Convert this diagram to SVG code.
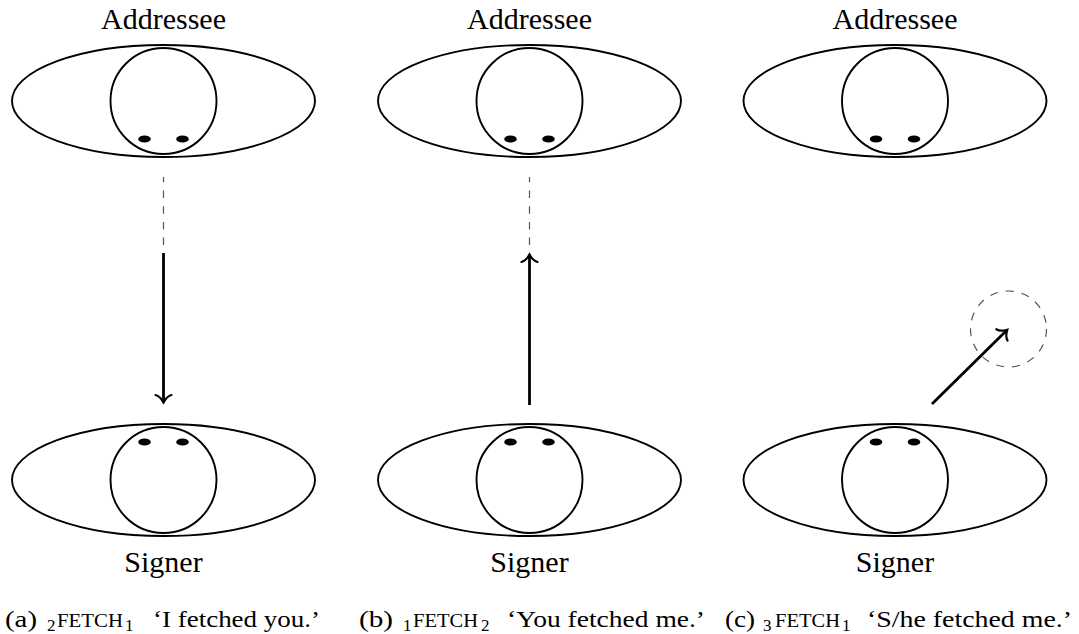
<svg xmlns="http://www.w3.org/2000/svg" width="1079" height="634" viewBox="0 0 1079 634">
<style>
.outer{fill:none;stroke:#000;stroke-width:1.9}
.head{fill:none;stroke:#000;stroke-width:1.9}
.eye{fill:#000;stroke:none}
text{font-family:'Liberation Serif','Times New Roman',serif;fill:#000}
.lbl{font-size:30px;text-anchor:middle}
.cap{font-size:24px}
.sc{font-size:18px}
.sub{font-size:17px}
.dash{fill:none;stroke:#555;stroke-width:1.2;stroke-dasharray:7.5 8.2}
.arrow{fill:none;stroke:#000;stroke-width:2.8;marker-end:url(#ah)}
</style>
<defs>
<marker id="ah" markerUnits="userSpaceOnUse" orient="auto" refX="0" refY="0" viewBox="-10 -10 12 20" markerWidth="12" markerHeight="20" overflow="visible">
<path d="M -7.5,-8 C -6.5,-4 -1.5,-0.8 0,0 C -1.5,0.8 -6.5,4 -7.5,8" fill="none" stroke="#000" stroke-width="2.2" stroke-linecap="round"/>
</marker>
<g id="faceDown">
<ellipse class="outer" cx="0" cy="0" rx="151.5" ry="56"/>
<circle class="head" cx="0" cy="0" r="53"/>
<ellipse class="eye" cx="-19" cy="38" rx="6.3" ry="3.6"/>
<ellipse class="eye" cx="19" cy="38" rx="6.3" ry="3.6"/>
</g>
<g id="faceUp">
<ellipse class="outer" cx="0" cy="0" rx="151.5" ry="56"/>
<circle class="head" cx="0" cy="0" r="53"/>
<ellipse class="eye" cx="-19" cy="-38" rx="6.3" ry="3.6"/>
<ellipse class="eye" cx="19" cy="-38" rx="6.3" ry="3.6"/>
</g>
</defs>

<g id="a-addressee">
<text class="lbl" x="163.5" y="29">Addressee</text>
<use href="#faceDown" x="163.5" y="101"/>
</g>
<g id="a-signer">
<use href="#faceUp" x="163.5" y="480"/>
<text class="lbl" x="163.5" y="572">Signer</text>
</g>
<g id="b-addressee">
<text class="lbl" x="529.5" y="29">Addressee</text>
<use href="#faceDown" x="529.5" y="101"/>
</g>
<g id="b-signer">
<use href="#faceUp" x="529.5" y="480"/>
<text class="lbl" x="529.5" y="572">Signer</text>
</g>
<g id="c-addressee">
<text class="lbl" x="895" y="29">Addressee</text>
<use href="#faceDown" x="895" y="101"/>
</g>
<g id="c-signer">
<use href="#faceUp" x="895" y="480"/>
<text class="lbl" x="895" y="572">Signer</text>
</g>
<g id="c-target">
<circle cx="1008.5" cy="329" r="38" fill="none" stroke="#555" stroke-width="1.2" stroke-dasharray="8 8"/>
</g>

<g id="connectors">
<line class="dash" x1="163.5" y1="177" x2="163.5" y2="245" stroke-dashoffset="2.2"/>
<line class="arrow" x1="163.5" y1="253" x2="163.5" y2="402.5"/>
<line class="dash" x1="529.5" y1="177" x2="529.5" y2="245" stroke-dashoffset="2.2"/>
<line class="arrow" x1="529.5" y1="405" x2="529.5" y2="254.5"/>
<line class="arrow" x1="932" y1="404" x2="1007.3" y2="329.7"/>
</g>

<g id="captions">
<text class="cap" x="5" y="627" textLength="32" lengthAdjust="spacingAndGlyphs">(a)</text>
<text class="sub" x="47" y="631">2</text>
<text class="sc" x="57" y="627" textLength="66" lengthAdjust="spacingAndGlyphs">FETCH</text>
<text class="sub" x="125" y="631">1</text>
<text class="cap" x="153" y="627" textLength="167" lengthAdjust="spacingAndGlyphs">‘I fetched you.’</text>

<text class="cap" x="359" y="627" textLength="34" lengthAdjust="spacingAndGlyphs">(b)</text>
<text class="sub" x="403" y="631">1</text>
<text class="sc" x="413" y="627" textLength="65" lengthAdjust="spacingAndGlyphs">FETCH</text>
<text class="sub" x="481" y="631">2</text>
<text class="cap" x="507" y="627" textLength="198" lengthAdjust="spacingAndGlyphs">‘You fetched me.’</text>

<text class="cap" x="725" y="627" textLength="30" lengthAdjust="spacingAndGlyphs">(c)</text>
<text class="sub" x="763" y="631">3</text>
<text class="sc" x="775" y="627" textLength="65" lengthAdjust="spacingAndGlyphs">FETCH</text>
<text class="sub" x="842" y="631">1</text>
<text class="cap" x="867" y="627" textLength="205" lengthAdjust="spacingAndGlyphs">‘S/he fetched me.’</text>
</g>
</svg>
